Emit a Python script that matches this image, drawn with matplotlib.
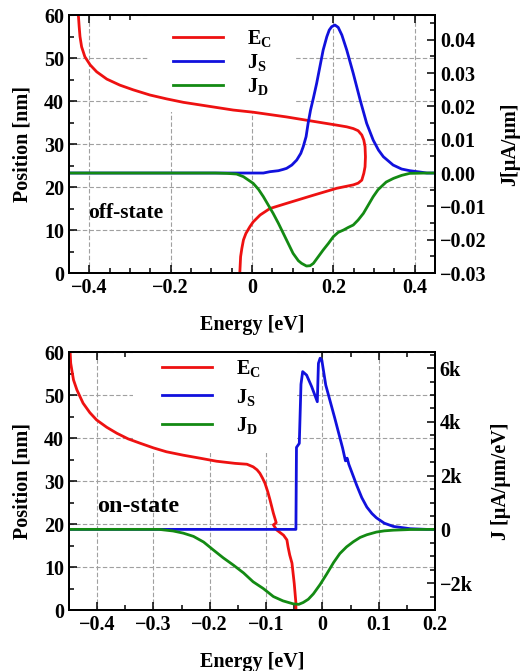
import numpy as np
import matplotlib.pyplot as plt
from matplotlib.patches import Rectangle
from matplotlib.ticker import MultipleLocator, FixedLocator, FixedFormatter

plt.rcParams['font.family'] = 'Liberation Serif'
plt.rcParams['font.weight'] = 'bold'
plt.rcParams['mathtext.fontset'] = 'custom'
plt.rcParams['mathtext.rm'] = 'Liberation Serif:bold'
plt.rcParams['mathtext.bf'] = 'Liberation Serif:bold'
plt.rcParams['mathtext.it'] = 'Liberation Serif:bold'

# --- off-state: conduction band edge (energy vs position)
off_ec_pos = [60.0, 57.3, 55.0, 52.6, 50.3, 48.4, 46.8, 45.1, 43.7, 42.6, 41.4, 40.5, 39.7,
              39.1, 38.5, 37.9, 37.4, 36.3, 35.4, 34.4, 34.0, 33.6, 33.1, 32.1, 30.9, 29.4,
              27.0, 24.7, 23.2, 21.6, 20.9, 20.5, 19.7, 18.1, 16.2, 15.0, 13.5, 11.9, 10.8,
              9.2, 7.7, 5.7, 3.8, 0.0]
off_ec_e = [-0.427, -0.425, -0.423, -0.419, -0.411, -0.398, -0.382, -0.357, -0.325, -0.292,
            -0.251, -0.210, -0.169, -0.128, -0.087, -0.046, 0.003, 0.085, 0.143, 0.208,
            0.233, 0.249, 0.261, 0.270, 0.275, 0.278, 0.279, 0.278, 0.275, 0.270, 0.261,
            0.249, 0.208, 0.151, 0.085, 0.044, 0.020, 0.003, -0.005, -0.015, -0.021,
            -0.025, -0.028, -0.030]

# --- off-state: source / drain current spectra
off_js_e = [-0.45, 0.028, 0.044, 0.065, 0.077, 0.085, 0.098, 0.110, 0.120, 0.126, 0.133,
            0.138, 0.144, 0.151, 0.159, 0.167, 0.175, 0.184, 0.190, 0.196, 0.204, 0.212,
            0.221, 0.233, 0.249, 0.266, 0.282, 0.298, 0.311, 0.323, 0.347, 0.368, 0.388,
            0.413, 0.43, 0.45]
off_js = [0, 0, 0.0004, 0.0007, 0.0011, 0.0014, 0.0024, 0.0039, 0.0059, 0.0079, 0.0109,
          0.0149, 0.0189, 0.0225, 0.0269, 0.0319, 0.0369, 0.0409, 0.0429, 0.0439, 0.0444,
          0.0437, 0.0414, 0.0369, 0.0299, 0.0219, 0.0149, 0.0099, 0.0069, 0.0049, 0.0024,
          0.0012, 0.0007, 0.0003, 0, 0]
off_jd_e = [-0.45, -0.09, -0.062, -0.038, -0.021, 0.003, 0.016, 0.028, 0.040, 0.052, 0.065,
            0.077, 0.089, 0.101, 0.114, 0.122, 0.134, 0.143, 0.151, 0.163, 0.175, 0.188,
            0.200, 0.212, 0.225, 0.237, 0.249, 0.261, 0.274, 0.286, 0.298, 0.310, 0.330,
            0.348, 0.368, 0.388, 0.43, 0.45]
off_jd = [0, 0, -0.0001, -0.0003, -0.0011, -0.0031, -0.0049, -0.0071, -0.0096, -0.0121,
          -0.0151, -0.0181, -0.0211, -0.0241, -0.0263, -0.0271, -0.0279, -0.0278, -0.0271,
          -0.0251, -0.0231, -0.0211, -0.0191, -0.0178, -0.0171, -0.0163, -0.0156, -0.0141,
          -0.0121, -0.0096, -0.0071, -0.0050, -0.0027, -0.0016, -0.0007, -0.0001, 0, 0]

# --- on-state: conduction band edge
on_ec_pos = [60.0, 57.4, 55.8, 53.5, 51.2, 49.5, 48.1, 45.9, 44.2, 42.5, 41.1, 39.8, 38.8,
             37.7, 36.8, 36.0, 35.3, 34.6, 34.1, 33.9, 33.3, 32.6, 31.8, 30.6, 29.5, 27.5,
             25.6, 22.5, 20.3, 19.8, 18.6, 17.4, 16.3, 14.7, 12.8, 10.9, 6.2, 1.6, 0.0]
on_ec_e = [-0.448, -0.447, -0.445, -0.442, -0.436, -0.430, -0.425, -0.413, -0.401, -0.383,
           -0.365, -0.345, -0.324, -0.300, -0.277, -0.247, -0.217, -0.188, -0.155, -0.134,
           -0.123, -0.116, -0.111, -0.106, -0.102, -0.097, -0.093, -0.087, -0.082, -0.087,
           -0.081, -0.069, -0.063, -0.061, -0.058, -0.054, -0.050, -0.047, -0.047]

# --- on-state: source / drain current spectra
on_js_e = [-0.45, -0.047, -0.046, -0.041, -0.038, -0.035, -0.028, -0.019, -0.009, -0.007,
           -0.004, -0.001, 0.006, 0.022, 0.036, 0.041, 0.044, 0.047, 0.061, 0.070, 0.079,
           0.088, 0.096, 0.110, 0.126, 0.156, 0.185, 0.2]
on_js = [0, 0, 3050, 3200, 5400, 5870, 5740, 5310, 4750, 6180, 6370, 6300, 5370, 4140,
         3020, 2550, 2650, 2420, 1640, 1180, 830, 590, 430, 230, 110, 25, 0, 0]
on_jd_e = [-0.45, -0.29, -0.265, -0.247, -0.229, -0.211, -0.194, -0.176, -0.158, -0.140,
           -0.123, -0.105, -0.087, -0.070, -0.052, -0.042, -0.034, -0.025, -0.016, -0.004,
           0.008, 0.020, 0.031, 0.043, 0.055, 0.067, 0.079, 0.096, 0.110, 0.126, 0.156, 0.2]
on_jd = [0, 0, -60, -140, -260, -470, -760, -1060, -1330, -1620, -1950, -2200, -2500,
         -2660, -2770, -2790, -2720, -2600, -2400, -2050, -1650, -1230, -900, -650, -460,
         -300, -200, -100, -55, -30, -5, 0]

off_xticks = [-0.4, -0.2, 0, 0.2, 0.4]
off_xlabels = ['\u22120.4', '\u22120.2', '0', '0.2', '0.4']
off_jticks = [-0.03, -0.02, -0.01, 0.0, 0.01, 0.02, 0.03, 0.04]
off_jlabels = ['\u22120.03', '\u22120.02', '\u22120.01', '0.00', '0.01', '0.02', '0.03', '0.04']
on_xticks = [-0.4, -0.3, -0.2, -0.1, 0, 0.1, 0.2]
on_xlabels = ['\u22120.4', '\u22120.3', '\u22120.2', '\u22120.1', '0', '0.1', '0.2']
on_jticks = [-2000, 0, 2000, 4000, 6000]
on_jlabels = ['\u22122k', '0', '2k', '4k', '6k']

RED, BLUE, GREEN = '#ee1111', '#1111dd', '#138a13'
LW = 2.0
FS = 14.5


def style_axes(ax, ax2):
    for a in (ax, ax2):
        for s in a.spines.values():
            s.set_linewidth(1.4)
    ax.tick_params(which='both', direction='in', top=True, right=False, labelsize=FS, width=1.1)
    ax.tick_params(which='major', length=6)
    ax.tick_params(which='minor', length=3.5)
    ax2.tick_params(which='both', direction='in', labelsize=FS, width=1.1)
    ax2.tick_params(which='major', length=6)
    ax2.tick_params(which='minor', length=3.5)
    ax.set_axisbelow(True)
    ax.grid(True, which='major', linestyle=(0, (4, 2)), color='#a0a0a0', linewidth=0.8)
    ax.set_ylim(0, 60)
    ax.yaxis.set_major_locator(MultipleLocator(10))
    ax.yaxis.set_minor_locator(MultipleLocator(5))
    ax.set_ylabel('Position [nm]', fontsize=FS, fontweight='bold', labelpad=8.5)
    ax.set_xlabel('Energy [eV]', fontsize=FS, fontweight='bold', labelpad=12.5)


def add_legend(ax, lines, box, anchor, spacing):
    # white patch under the legend hides the grid but not the curves
    ax.add_patch(Rectangle(box[:2], box[2], box[3], transform=ax.transAxes,
                           facecolor='white', edgecolor='none', zorder=1))
    leg = ax.legend(lines, [r'$\mathrm{E_C}$', r'$\mathrm{J_S}$', r'$\mathrm{J_D}$'],
                    loc='upper left', bbox_to_anchor=anchor, fontsize=FS,
                    handlelength=2.5, handletextpad=1.2, labelspacing=spacing,
                    borderpad=0.0, borderaxespad=0.0, frameon=False)
    leg.set_zorder(3)
    return leg


fig = plt.figure(figsize=(5.22, 6.71), dpi=100)

# upper panel: off-state
ax = fig.add_axes([0.1322, 0.5931, 0.7011, 0.3845])
ax2 = ax.twinx()
l_ec, = ax.plot(off_ec_e, off_ec_pos, color=RED, lw=LW, zorder=2)
l_js, = ax2.plot(off_js_e, off_js, color=BLUE, lw=LW)
l_jd, = ax2.plot(off_jd_e, off_jd, color=GREEN, lw=LW)
ax.set_xlim(-0.45, 0.45)
ax.xaxis.set_major_locator(FixedLocator(off_xticks))
ax.xaxis.set_major_formatter(FixedFormatter(off_xlabels))
ax.xaxis.set_minor_locator(MultipleLocator(0.05))
ax2.set_ylim(-0.03, 0.0474)
ax2.yaxis.set_major_locator(FixedLocator(off_jticks))
ax2.yaxis.set_major_formatter(FixedFormatter(off_jlabels))
ax2.yaxis.set_minor_locator(MultipleLocator(0.005))
ax2.set_ylabel('J[\u03bcA/\u03bcm]', fontsize=FS, fontweight='bold', labelpad=9.5)
style_axes(ax, ax2)
add_legend(ax, [l_ec, l_js, l_jd], (0.216, 0.624, 0.404, 0.376), (0.284, 0.95), 0.15)
ax.text(0.052, 0.233, 'off-state', transform=ax.transAxes, fontsize=15.5,
        fontweight='bold', va='center', ha='left', zorder=3)

# lower panel: on-state
bx = fig.add_axes([0.1322, 0.0909, 0.7011, 0.3845])
bx2 = bx.twinx()
m_ec, = bx.plot(on_ec_e, on_ec_pos, color=RED, lw=LW, zorder=2)
m_js, = bx2.plot(on_js_e, on_js, color=BLUE, lw=LW)
m_jd, = bx2.plot(on_jd_e, on_jd, color=GREEN, lw=LW)
bx.set_xlim(-0.45, 0.2)
bx.xaxis.set_major_locator(FixedLocator(on_xticks))
bx.xaxis.set_major_formatter(FixedFormatter(on_xlabels))
bx.xaxis.set_minor_locator(MultipleLocator(0.05))
bx2.set_ylim(-3000, 6600)
bx2.yaxis.set_major_locator(FixedLocator(on_jticks))
bx2.yaxis.set_major_formatter(FixedFormatter(on_jlabels))
bx2.yaxis.set_minor_locator(MultipleLocator(500))
bx2.set_ylabel('J [\u03bcA/\u03bcm/eV]', fontsize=FS, fontweight='bold', labelpad=13)
style_axes(bx, bx2)
add_legend(bx, [m_ec, m_js, m_jd], (0.175, 0.609, 0.448, 0.391), (0.254, 0.975), 0.35)
bx.text(0.077, 0.40, 'on-state', transform=bx.transAxes, fontsize=17.5,
        fontweight='bold', va='center', ha='left', zorder=3)

fig.savefig('out.png', dpi=100)
